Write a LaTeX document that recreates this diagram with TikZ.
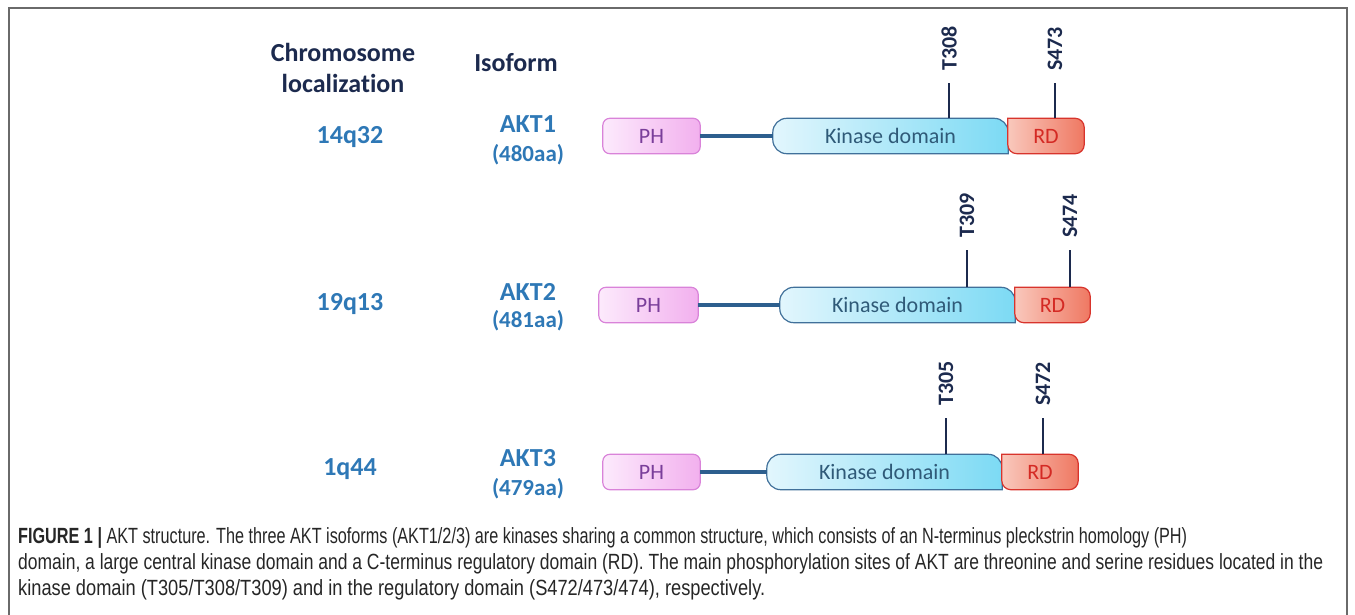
\documentclass[tikz,border=0pt]{standalone}
\usepackage{fontspec}
\setmainfont{Carlito}[Ligatures=NoCommon]
\newfontfamily\capfont{Liberation Sans}
\usetikzlibrary{backgrounds,calc}
\definecolor{navy}{HTML}{1C2A4E}
\definecolor{lblue}{HTML}{2E78B6}
\definecolor{phL}{HTML}{FCEAFC}
\definecolor{phR}{HTML}{F2B0EE}
\definecolor{phB}{HTML}{D983D9}
\definecolor{phT}{HTML}{7A3E9A}
\definecolor{kL}{HTML}{E2F6FD}
\definecolor{kR}{HTML}{7CDAF4}
\definecolor{kB}{HTML}{40709A}
\definecolor{kT}{HTML}{2F5A78}
\definecolor{rL}{HTML}{F9C8BC}
\definecolor{rR}{HTML}{EF7862}
\definecolor{rB}{HTML}{D8342C}
\definecolor{rT}{HTML}{D42A24}
\definecolor{linkc}{HTML}{2D5F8E}
\definecolor{framec}{HTML}{6A6A6A}
\tikzset{
  hdr/.style={font=\fontsize{26}{31}\selectfont\bfseries, text=navy, align=center, inner sep=0pt},
  lbl/.style={font=\fontsize{26}{30}\selectfont\bfseries, text=lblue, inner sep=0pt},
  aa/.style={font=\fontsize{23}{27}\selectfont\bfseries, text=lblue, inner sep=0pt},
  dom/.style={inner sep=0pt, minimum height=35pt, font=\fontsize{22}{26}\selectfont},
  phbox/.style={dom, text=phT},
  kbox/.style={dom, text=kT},
  rbox/.style={dom, text=rT},
  linker/.style={draw=linkc, line width=3.2pt},
  siteline/.style={draw=navy, line width=2pt},
  sitelbl/.style={font=\fontsize{22}{26}\selectfont\bfseries, text=navy, rotate=90, anchor=west, inner sep=0pt},
  capline/.style={anchor=base west, inner sep=0pt, font=\capfont\fontsize{22}{26}\selectfont, text=black!85},
}
% #1 row name, #2 y centre, #3 PH left, #4 PH right, #5 kinase left, #6 kinase/RD split, #7 RD right
\newcommand{\akrow}[7]{%
  \node[phbox, minimum width={#4-#3}] (ph#1) at ({(#3+#4)/2},#2) {PH};
  \node[kbox, minimum width={#6-#5}] (k#1) at ({(#5+#6)/2},#2) {Kinase domain};
  \node[rbox, minimum width={#7-#6}] (r#1) at ({(#6+#7)/2},#2) {RD};
  \begin{scope}[on background layer]
    \draw[draw=phB, line width=1.2pt, rounded corners=7pt, left color=phL, right color=phR]
      (ph#1.south west) rectangle (ph#1.north east);
    \draw[draw=kB, line width=1.2pt, left color=kL, right color=kR]
      [rounded corners=14pt] (k#1.south east) -- (k#1.south west) -- (k#1.north west) -- (k#1.north east) [sharp corners] -- cycle;
    \draw[draw=rB, line width=1.2pt, left color=rL, right color=rR]
      [rounded corners=9pt] (r#1.north west) -- (r#1.north east) -- (r#1.south east) -- (r#1.south west) [sharp corners] -- cycle;
  \end{scope}
  \draw[linker] (ph#1.east) -- (k#1.west);
}
\begin{document}
\begin{tikzpicture}[x=1pt,y=-1pt]
\useasboundingbox (0,0) rectangle (1355,615);
% frame
\draw[framec, line width=2pt] (9,615) -- (9,8) -- (1347,8) -- (1347,615);

% headers
\node[hdr] (chr) at (343,68) {Chromosome\\localization};
\node[hdr] (iso) at (516,63) {Isoform};

% row labels
\node[lbl] (c1) at (350,137) {14q32};
\node[lbl] (i1) at (528,124) {AKT1};
\node[aa]  (a1) at (528,155) {(480aa)};
\node[lbl] (c2) at (350,304) {19q13};
\node[lbl] (i2) at (528,292) {AKT2};
\node[aa]  (a2) at (528,321) {(481aa)};
\node[lbl] (c3) at (350,469) {1q44};
\node[lbl] (i3) at (528,458) {AKT3};
\node[aa]  (a3) at (528,489) {(479aa)};

% domain rows
\akrow{1}{136}{603}{700}{773}{1008}{1084}
\akrow{2}{305}{599}{698}{780}{1015}{1090}
\akrow{3}{472}{603}{700}{767}{1002}{1078}

% phosphorylation sites
\coordinate (t1) at (949,83);   \coordinate (s1) at (1055,83);
\coordinate (t2) at (967,250);  \coordinate (s2) at (1070,250);
\coordinate (t3) at (946,418);  \coordinate (s3) at (1043,418);
\draw[siteline] (t1 |- k1.north) -- (t1);
\draw[siteline] (s1 |- r1.north) -- (s1);
\draw[siteline] (t2 |- k2.north) -- (t2);
\draw[siteline] (s2 |- r2.north) -- (s2);
\draw[siteline] (t3 |- k3.north) -- (t3);
\draw[siteline] (s3 |- r3.north) -- (s3);
\node[sitelbl] (lt1) at ($(t1)+(0,-12)$) {T308};
\node[sitelbl] (ls1) at ($(s1)+(0,-12)$) {S473};
\node[sitelbl] (lt2) at ($(t2)+(0,-12)$) {T309};
\node[sitelbl] (ls2) at ($(s2)+(0,-12)$) {S474};
\node[sitelbl] (lt3) at ($(t3)+(0,-12)$) {T305};
\node[sitelbl] (ls3) at ($(s3)+(0,-12)$) {S472};

% caption
\node[capline] (cap1) at (18,543) {\resizebox{1169pt}{\height}{\textbf{FIGURE 1 |} AKT structure. The three AKT isoforms (AKT1/2/3) are kinases sharing a common structure, which consists of an N-terminus pleckstrin homology (PH)}};
\node[capline] (cap2) at (18,569) {\resizebox{1305pt}{\height}{domain, a large central kinase domain and a C-terminus regulatory domain (RD). The main phosphorylation sites of AKT are threonine and serine residues located in the}};
\node[capline] (cap3) at (18,595) {\resizebox{747pt}{\height}{kinase domain (T305/T308/T309) and in the regulatory domain (S472/473/474), respectively.}};
\end{tikzpicture}
\end{document}
